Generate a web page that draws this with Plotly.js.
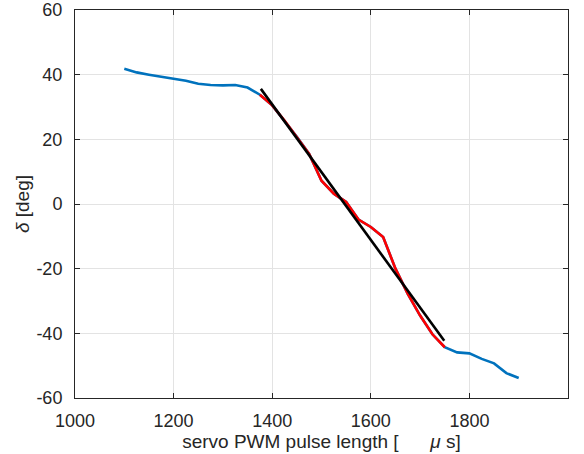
<!DOCTYPE html>
<html>
<head>
<meta charset="utf-8">
<script src="https://cdn.plot.ly/plotly-3.0.1.min.js"></script>
<style>html,body{margin:0;padding:0;background:#fff;}#chart{width:584px;height:454px;}</style>
</head>
<body>
<div id="chart"></div>
<script>
// Measured servo response (blue), fitted region (red), linear fit (black)
const pwmAll = [1100,1125,1150,1175,1200,1225,1250,1275,1300,1325,1350,1375,1400,1425,1450,1475,1500,1525,1550,1575,1600,1625,1650,1675,1700,1725,1750,1775,1800,1825,1850,1875,1900];
const deltaAll = [41.8,40.7,40.0,39.4,38.8,38.1,37.2,36.8,36.7,36.8,36.0,33.8,30.5,25.8,20.8,15.5,7.2,3.2,0.6,-4.8,-7.1,-10.2,-20.0,-27.8,-34.5,-40.3,-44.3,-45.9,-46.2,-47.9,-49.3,-52.3,-53.8];

const pwmFit = [1375,1400,1425,1450,1475,1500,1525,1550,1575,1600,1625,1650,1675,1700,1725,1750];
const deltaFit = [33.8,30.5,25.8,20.8,15.5,7.2,3.2,0.6,-4.8,-7.1,-10.2,-20.0,-27.8,-34.5,-40.3,-44.3];

const pwmLine = [1377,1749];
const deltaLine = [35.6,-42.3];

const xTicks = [1000,1200,1400,1600,1800,2000];
const yTicks = [-60,-40,-20,0,20,40,60];

const traces = [
  {x: pwmAll, y: deltaAll, mode: 'lines', line: {color: '#0072BD', width: 2.6}, hoverinfo: 'skip'},
  {x: pwmFit, y: deltaFit, mode: 'lines', line: {color: '#FF0000', width: 2.6}, hoverinfo: 'skip'},
  {x: pwmLine, y: deltaLine, mode: 'lines', line: {color: '#000000', width: 2.6}, hoverinfo: 'skip'}
];

const FONT = 'Liberation Sans, Arial, Helvetica, sans-serif';
const NB = '\u00a0';
const axisCommon = {
  showline: true, linecolor: '#262626', linewidth: 1,
  mirror: 'ticks', ticks: 'inside', ticklen: 5, tickwidth: 1, tickcolor: '#262626',
  showgrid: true, gridcolor: '#e3e3e3', gridwidth: 1, zeroline: false,
  tickfont: {family: FONT, size: 18, color: '#262626'}
};

const layout = {
  width: 584, height: 454,
  margin: {l: 75, r: 16, t: 10, b: 56},
  paper_bgcolor: '#fff', plot_bgcolor: '#fff',
  showlegend: false,
  xaxis: Object.assign({}, axisCommon, {
    range: [1000, 2000], tickvals: xTicks, ticktext: xTicks.map(String),
    ticklabelstandoff: 6,
    title: {text: 'servo PWM pulse length [' + NB.repeat(6) + '<i>μ</i> s]', standoff: 0,
      font: {family: FONT, size: 19, color: '#262626'}}
  }),
  yaxis: Object.assign({}, axisCommon, {
    range: [-60, 60], tickvals: yTicks, ticktext: yTicks.map(String),
    ticklabelstandoff: 8,
    title: {text: '<i>δ</i> [deg]', standoff: 1,
      font: {family: FONT, size: 19, color: '#262626'}}
  })
};

Plotly.newPlot('chart', traces, layout, {staticPlot: true, displayModeBar: false});
</script>
</body>
</html>
